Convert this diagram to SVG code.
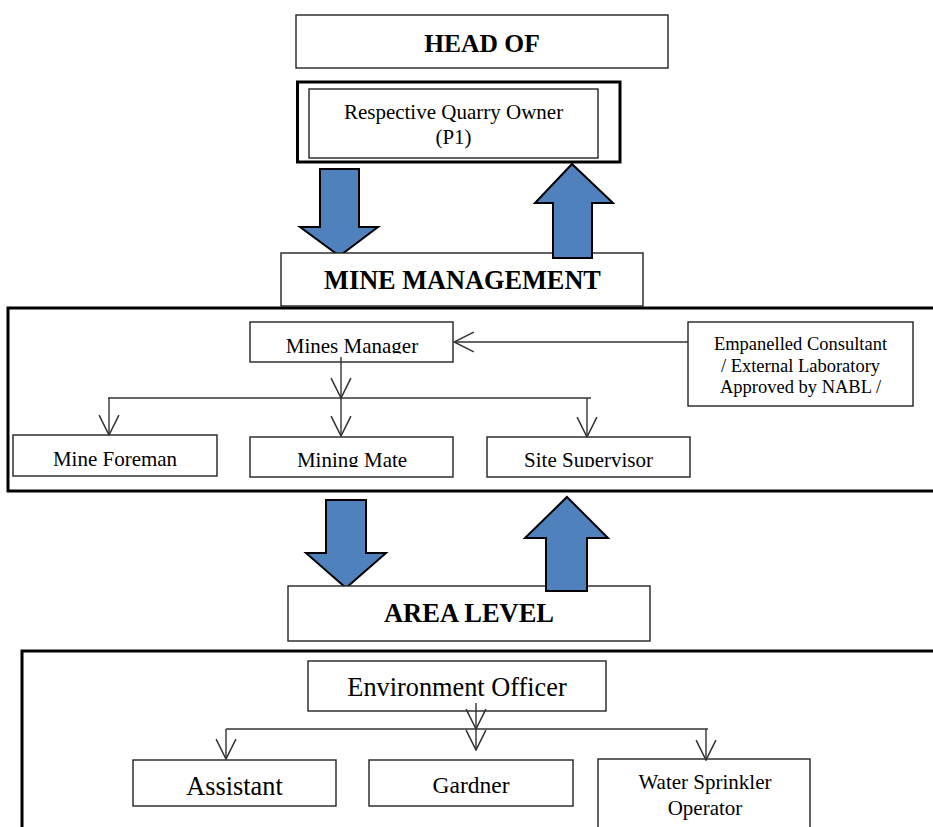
<svg xmlns="http://www.w3.org/2000/svg" width="933" height="827" viewBox="0 0 933 827">
<style>
.bx{fill:#fff;stroke:#222;stroke-width:1.4}
.thick{fill:none;stroke:#000;stroke-width:3}
.t{font-family:'Liberation Serif','DejaVu Serif','Noto Serif',serif;fill:#000;text-anchor:middle}
.b{font-weight:bold}
.ar{fill:#4F81BD;stroke:#000;stroke-width:2;stroke-linejoin:miter}
.ln{fill:none;stroke:#333;stroke-width:1.4}
</style>
<defs>
<marker id="v" markerUnits="userSpaceOnUse" markerWidth="22" markerHeight="22" viewBox="0 0 20 20" refX="19" refY="10" orient="auto">
<path d="M1,1 L19,10 L1,19" fill="none" stroke="#333" stroke-width="1.4"/>
</marker>
<clipPath id="c1"><rect x="250" y="322" width="203" height="31.5"/></clipPath>
<clipPath id="c2"><rect x="250" y="437" width="203" height="30"/></clipPath>
<clipPath id="c3"><rect x="487" y="437" width="203" height="30"/></clipPath>
</defs>

<!-- frames -->
<rect class="thick" x="8" y="308" width="940" height="183"/>
<rect class="thick" x="22" y="651" width="930" height="200"/>

<g id="head">
<rect class="bx" x="296" y="15" width="372" height="53"/>
<text class="t b" x="482" y="52" font-size="25.5" font-family="Liberation Serif, serif">HEAD OF</text>
</g>

<g id="owner">
<rect class="thick" x="297.5" y="82" width="322.5" height="80"/>
<rect class="bx" x="309" y="89" width="289" height="69"/>
<text class="t" x="453.5" y="119" font-size="21" font-family="Liberation Serif, serif">Respective Quarry Owner</text>
<text class="t" x="453.5" y="144" font-size="21" font-family="Liberation Serif, serif">(P1)</text>
</g>

<g id="arrow-down-1"><polygon class="ar" points="320,169 359,169 359,227 378,227 339.5,256 300,227 320,227"/></g>

<g id="mine-mgmt">
<rect class="bx" x="281" y="253" width="362" height="53"/>
<text class="t b" x="462.5" y="289" font-size="26.3" font-family="Liberation Serif, serif">MINE MANAGEMENT</text>
</g>

<g id="arrow-up-1"><polygon class="ar" points="572,164 613,203 592,203 592,258 553,258 553,203 535,203"/></g>

<g id="mines-manager">
<rect class="bx" x="250" y="322" width="203" height="40"/>
<text class="t" x="352" y="353" font-size="21" font-family="Liberation Serif, serif" clip-path="url(#c1)">Mines Manager</text>
</g>

<g id="consultant">
<rect class="bx" x="688" y="322" width="225" height="84"/>
<text class="t" x="800.5" y="350" font-size="18.5" font-family="Liberation Serif, serif">Empanelled Consultant</text>
<text class="t" x="800.5" y="372" font-size="18.5" font-family="Liberation Serif, serif">/ External Laboratory</text>
<text class="t" x="800.5" y="393" font-size="18.5" font-family="Liberation Serif, serif">Approved by NABL /</text>
</g>

<g id="mine-foreman">
<rect class="bx" x="13" y="435" width="204" height="41"/>
<text class="t" x="115" y="466" font-size="21" font-family="Liberation Serif, serif">Mine Foreman</text>
</g>

<g id="mining-mate">
<rect class="bx" x="250" y="437" width="203" height="40"/>
<text class="t" x="352" y="467" font-size="21" font-family="Liberation Serif, serif" clip-path="url(#c2)">Mining Mate</text>
</g>

<g id="site-supervisor">
<rect class="bx" x="487" y="437" width="203" height="40"/>
<text class="t" x="588.5" y="467" font-size="21" font-family="Liberation Serif, serif" clip-path="url(#c3)">Site Supervisor</text>
</g>

<g id="arrow-down-2"><polygon class="ar" points="326,500 366,500 366,553 386,553 346,588 306,553 326,553"/></g>

<g id="area-level">
<rect class="bx" x="288" y="586" width="362" height="55"/>
<text class="t b" x="469" y="622" font-size="26.5" font-family="Liberation Serif, serif">AREA LEVEL</text>
</g>

<g id="arrow-up-2"><polygon class="ar" points="567,497 608,538 587,538 587,591 546,591 546,538 525,538"/></g>

<g id="env-officer">
<rect class="bx" x="308" y="661" width="298" height="50"/>
<text class="t" x="457" y="696" font-size="26.3" font-family="Liberation Serif, serif">Environment Officer</text>
</g>

<g id="assistant">
<rect class="bx" x="133" y="760" width="203" height="46"/>
<text class="t" x="234.5" y="795" font-size="26.3" font-family="Liberation Serif, serif">Assistant</text>
</g>

<g id="gardner">
<rect class="bx" x="369" y="760" width="204" height="46"/>
<text class="t" x="471" y="793" font-size="23.5" font-family="Liberation Serif, serif">Gardner</text>
</g>

<g id="water-sprinkler">
<rect class="bx" x="598" y="759" width="212" height="90"/>
<text class="t" x="705" y="789" font-size="21" font-family="Liberation Serif, serif">Water Sprinkler</text>
<text class="t" x="705" y="815" font-size="21" font-family="Liberation Serif, serif">Operator</text>
</g>

<g id="connectors">
<line class="ln" x1="688" y1="342" x2="454" y2="342" marker-end="url(#v)"/>
<line class="ln" x1="341" y1="357" x2="341" y2="398" marker-end="url(#v)"/>
<line class="ln" x1="341" y1="398" x2="341" y2="436" marker-end="url(#v)"/>
<line class="ln" x1="108" y1="398" x2="591" y2="398"/>
<line class="ln" x1="109" y1="398" x2="109" y2="435" marker-end="url(#v)"/>
<line class="ln" x1="587" y1="398" x2="587" y2="437" marker-end="url(#v)"/>
<line class="ln" x1="476" y1="703" x2="476" y2="729" marker-end="url(#v)"/>
<line class="ln" x1="476" y1="729" x2="476" y2="750" marker-end="url(#v)"/>
<line class="ln" x1="226" y1="729" x2="708" y2="729"/>
<line class="ln" x1="226" y1="729" x2="226" y2="759" marker-end="url(#v)"/>
<line class="ln" x1="706" y1="729" x2="706" y2="760" marker-end="url(#v)"/>
</g>
</svg>
